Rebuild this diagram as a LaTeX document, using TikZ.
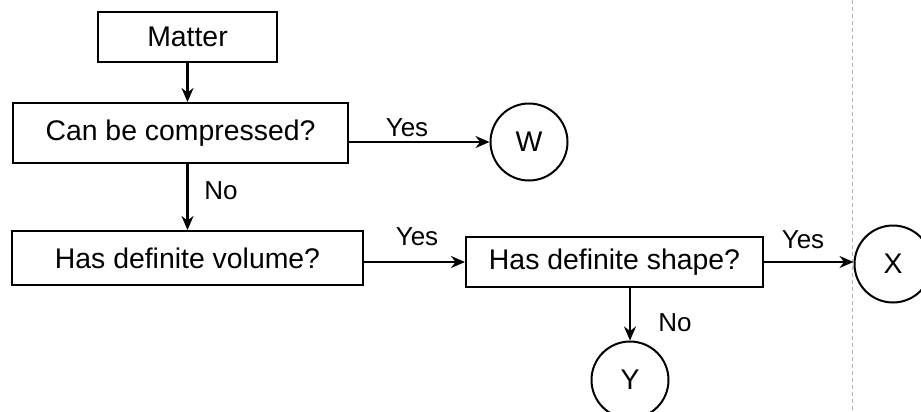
\documentclass[tikz,border=0pt]{standalone}
\usepackage{fontspec}
\setmainfont{Liberation Sans}
\usetikzlibrary{arrows.meta}

\begin{document}
\begin{tikzpicture}[x=0.5pt,y=-0.5pt,
    box/.style={draw,line width=1pt,inner sep=0pt,font=\fontsize{14.2}{17}\selectfont},
    circ/.style={draw,circle,line width=1pt,inner sep=0pt,minimum size=38.5pt,font=\fontsize{14.2}{17}\selectfont},
    lbl/.style={font=\fontsize{13}{15}\selectfont},
    arr/.style={line width=1.1pt,-{Stealth[length=7pt,width=6pt]}}]
    \useasboundingbox (0,0) rectangle (921,412);
    \clip (0,0) rectangle (921,412);
    \draw[gray!60,line width=0.4pt,dash pattern=on 2pt off 1.5pt] (852,0) -- (852,412);
    \node[box,minimum width=89.5pt,minimum height=25pt] (matter) at (187.5,37) {Matter};
    \node[box,minimum width=167.5pt,minimum height=30pt] (compress) at (180.5,133) {Can be compressed?};
    \node[box,minimum width=175.5pt,minimum height=27pt] (volume) at (187.5,258) {Has definite volume?};
    \node[box,minimum width=148.5pt,minimum height=25pt] (shape) at (614.5,262) {Has definite shape?};
    \node[circ] (w) at (529,142) {W};
    \node[circ] (x) at (893,264) {X};
    \node[circ] (y) at (630,380) {Y};
    \draw[arr] (matter.south) -- (matter.south |- compress.north);
    \draw[arr] (compress.east |- w.west) -- (w.west);
    \draw[arr] (compress.south -| matter.south) -- (volume.north -| matter.south);
    \draw[arr] (volume.east |- shape.west) -- (shape.west);
    \draw[arr] (shape.east) -- (shape.east -| x.west);
    \draw[arr] (shape.south -| y.north) -- (y.north);
    \node[lbl] (yes1) at (407,128) {Yes};
    \node[lbl] (no1) at (221,191) {No};
    \node[lbl] (yes2) at (417,237) {Yes};
    \node[lbl] (yes3) at (803,240) {Yes};
    \node[lbl] (no2) at (675,323) {No};
\end{tikzpicture}
\end{document}
